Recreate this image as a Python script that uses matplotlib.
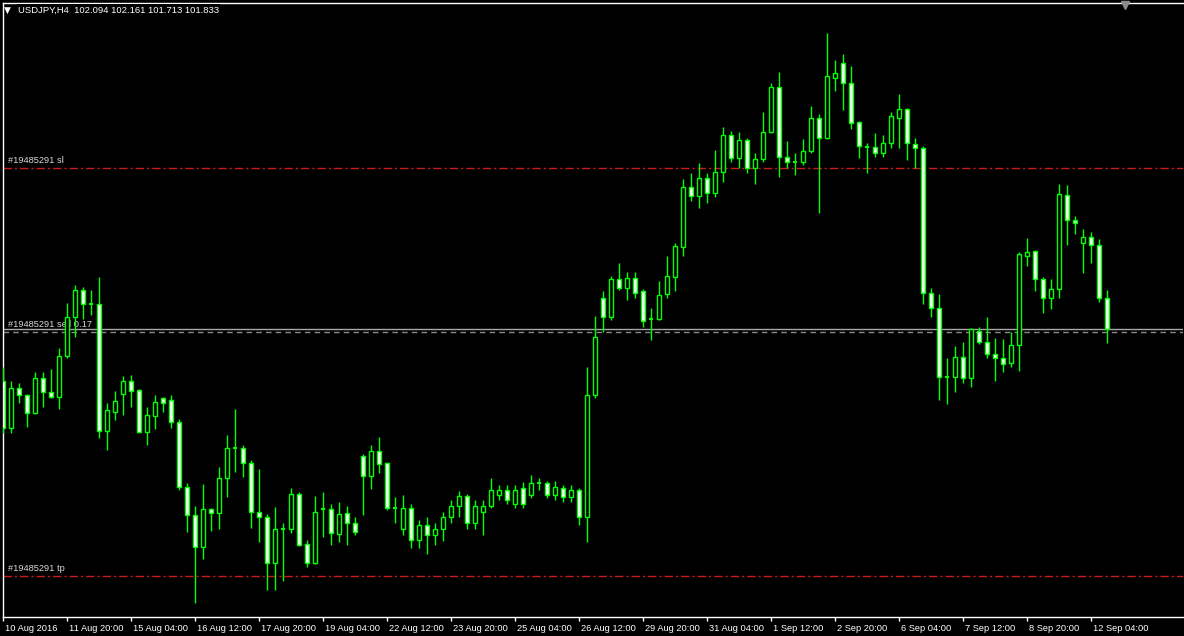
import matplotlib
matplotlib.use('Agg')
import matplotlib.pyplot as plt
import matplotlib.transforms as mtransforms
from matplotlib.patches import Rectangle
from matplotlib.lines import Line2D

# USDJPY H4 bars, 10 Aug 2016 12:00 .. 12 Sep 2016 12:00
opens = [101.40, 101.00, 101.34, 101.28, 101.13, 101.42, 101.30, 101.26, 101.61, 101.93,
         102.16, 102.04, 102.04, 100.98, 101.14, 101.29, 101.40, 101.32, 100.97, 101.10,
         101.25, 101.24, 101.05, 100.51, 100.27, 100.00, 100.32, 100.29, 100.58, 100.83,
         100.83, 100.71, 100.30, 100.25, 99.87, 100.15, 100.15, 100.45, 100.03, 99.87,
         100.32, 100.32, 100.11, 100.29, 100.20, 100.77, 100.60, 100.81, 100.71, 100.33,
         100.15, 100.33, 100.06, 100.19, 100.10, 100.15, 100.25, 100.35, 100.43, 100.20,
         100.30, 100.35, 100.44, 100.48, 100.36, 100.50, 100.44, 100.54, 100.54, 100.44,
         100.50, 100.42, 100.48, 100.25, 101.28, 102.09, 101.93, 102.25, 102.18, 102.26,
         102.15, 101.92, 101.92, 102.13, 102.27, 102.52, 103.03, 102.95, 103.10, 102.98,
         103.15, 103.46, 103.27, 103.42, 103.19, 103.26, 103.49, 103.87, 103.28, 103.24,
         103.24, 103.33, 103.61, 103.44, 103.94, 104.07, 103.90, 103.57, 103.36, 103.36,
         103.31, 103.40, 103.61, 103.68, 103.39, 103.35, 102.14, 102.01, 101.43, 101.43,
         101.60, 101.42, 101.82, 101.72, 101.62, 101.59, 101.55, 101.70, 102.45, 102.49,
         102.25, 102.09, 102.17, 102.96, 102.75, 102.56, 102.61, 102.54, 102.094]
highs = [101.51, 101.40, 101.38, 101.29, 101.47, 101.47, 101.50, 101.67, 102.05, 102.20,
         102.19, 102.16, 102.27, 101.21, 101.31, 101.44, 101.45, 101.33, 101.18, 101.28,
         101.26, 101.28, 101.08, 100.54, 100.35, 100.53, 100.33, 100.67, 100.94, 101.16,
         100.86, 100.73, 100.66, 100.28, 100.34, 100.20, 100.50, 100.46, 100.06, 100.43,
         100.46, 100.36, 100.38, 100.35, 100.25, 100.78, 100.86, 100.93, 100.72, 100.42,
         100.44, 100.36, 100.23, 100.25, 100.20, 100.30, 100.40, 100.47, 100.45, 100.40,
         100.40, 100.58, 100.52, 100.52, 100.52, 100.55, 100.61, 100.58, 100.56, 100.56,
         100.52, 100.52, 100.50, 101.51, 101.94, 102.15, 102.28, 102.39, 102.31, 102.31,
         102.17, 102.01, 102.24, 102.45, 102.56, 103.09, 103.14, 103.23, 103.14, 103.34,
         103.53, 103.50, 103.49, 103.44, 103.31, 103.66, 103.90, 103.99, 103.41, 103.31,
         103.43, 103.71, 103.64, 104.32, 104.09, 104.14, 104.04, 103.58, 103.40, 103.48,
         103.46, 103.66, 103.81, 103.69, 103.44, 103.37, 102.18, 102.13, 101.59, 101.69,
         101.72, 101.84, 101.85, 101.93, 101.76, 101.75, 101.81, 102.48, 102.60, 102.50,
         102.27, 102.25, 103.05, 103.04, 102.78, 102.67, 102.65, 102.59, 102.161]
lows = [100.96, 100.96, 101.21, 101.01, 101.12, 101.18, 101.25, 101.16, 101.59, 101.77,
        101.92, 101.95, 100.92, 100.82, 101.07, 101.11, 101.18, 100.96, 100.86, 100.99,
        101.14, 101.00, 100.48, 100.13, 99.53, 99.90, 100.14, 100.15, 100.42, 100.63,
        100.59, 100.16, 100.04, 99.64, 99.64, 99.72, 100.12, 100.01, 99.83, 99.86,
        100.09, 100.02, 100.04, 100.02, 100.10, 100.27, 100.49, 100.62, 100.31, 100.20,
        100.10, 99.99, 99.99, 99.94, 100.02, 100.05, 100.20, 100.25, 100.15, 100.15,
        100.10, 100.33, 100.40, 100.36, 100.33, 100.33, 100.41, 100.48, 100.41, 100.40,
        100.38, 100.38, 100.19, 100.04, 101.25, 101.81, 101.91, 102.16, 102.08, 102.09,
        101.85, 101.74, 101.91, 102.09, 102.15, 102.45, 102.91, 102.85, 102.89, 102.94,
        103.07, 103.24, 103.19, 103.14, 103.05, 103.24, 103.48, 103.11, 103.19, 103.13,
        103.21, 103.31, 102.81, 103.43, 103.83, 103.67, 103.51, 103.27, 103.14, 103.28,
        103.28, 103.35, 103.35, 103.25, 103.19, 102.04, 101.93, 101.24, 101.20, 101.30,
        101.38, 101.35, 101.71, 101.59, 101.40, 101.47, 101.51, 101.48, 102.36, 102.15,
        101.97, 102.00, 102.09, 102.54, 102.63, 102.30, 102.39, 102.06, 101.713]
closes = [101.00, 101.34, 101.28, 101.13, 101.42, 101.30, 101.26, 101.61, 101.93, 102.16,
          102.04, 102.04, 100.98, 101.15, 101.23, 101.40, 101.31, 100.97, 101.11, 101.22,
          101.21, 101.05, 100.51, 100.27, 100.00, 100.32, 100.29, 100.58, 100.83, 100.83,
          100.71, 100.30, 100.25, 99.87, 100.15, 100.15, 100.45, 100.02, 99.87, 100.30,
          100.32, 100.12, 100.28, 100.20, 100.13, 100.60, 100.81, 100.70, 100.33, 100.33,
          100.33, 100.06, 100.19, 100.10, 100.15, 100.25, 100.35, 100.43, 100.20, 100.35,
          100.35, 100.48, 100.48, 100.40, 100.48, 100.36, 100.54, 100.54, 100.44, 100.51,
          100.42, 100.48, 100.25, 101.28, 101.77, 101.93, 102.25, 102.18, 102.26, 102.14,
          101.90, 101.92, 102.12, 102.28, 102.53, 103.03, 102.95, 103.10, 102.98, 103.15,
          103.46, 103.27, 103.42, 103.19, 103.26, 103.49, 103.87, 103.28, 103.24, 103.24,
          103.33, 103.61, 103.44, 103.96, 103.98, 103.90, 103.56, 103.37, 103.36, 103.31,
          103.40, 103.62, 103.68, 103.40, 103.35, 102.14, 102.01, 101.43, 101.43, 101.60,
          101.42, 101.83, 101.72, 101.62, 101.59, 101.54, 101.70, 102.46, 102.48, 102.25,
          102.09, 102.17, 102.97, 102.75, 102.72, 102.61, 102.54, 102.09, 101.833]

tick_labels = ['10 Aug 2016', '11 Aug 20:00', '15 Aug 04:00', '16 Aug 12:00', '17 Aug 20:00',
               '19 Aug 04:00', '22 Aug 12:00', '23 Aug 20:00', '25 Aug 04:00', '26 Aug 12:00',
               '29 Aug 20:00', '31 Aug 04:00', '1 Sep 12:00', '2 Sep 20:00', '6 Sep 04:00',
               '7 Sep 12:00', '8 Sep 20:00', '12 Sep 04:00']

symbol = 'USDJPY,H4'
ticket = '#19485291'
sl_price = 103.19
tp_price = 99.76
order_price = 101.81
order_lots = 0.17

GREEN = '#00ff00'
plt.rcParams['font.family'] = ['Liberation Sans', 'DejaVu Sans']

fig = plt.figure(figsize=(11.84, 6.36), dpi=100, facecolor='black')
ax = fig.add_axes([3 / 1184, 19 / 636, 1180 / 1184, 614 / 636], facecolor='black')

# candles: bull = black body, bear = white body, green outline
w = 0.6
for i, (o, h, l, c) in enumerate(zip(opens, highs, lows, closes)):
    ax.vlines(i, l, h, color=GREEN, lw=1, zorder=3)
    if o == c:
        ax.hlines(o, i - w / 2, i + w / 2, color=GREEN, lw=1.5, zorder=4)
    else:
        face = 'white' if c < o else 'black'
        ax.add_patch(Rectangle((i - w / 2, min(o, c)), w, abs(c - o),
                               facecolor=face, edgecolor=GREEN, lw=1, zorder=4))

# order levels
red_dd = (0, (6, 2.2, 1.5, 2.2))
ax.axhline(sl_price, color='#c81c1c', lw=1, ls=red_dd, zorder=1)
ax.axhline(tp_price, color='#c81c1c', lw=1, ls=red_dd, zorder=1)
ax.axhline(order_price, color='#8a8a8a', lw=1, ls=(0, (4, 3)), zorder=1)
ax.axhline(closes[-1], color='#a8a8a8', lw=1, zorder=1)

lab = dict(color='#d8d8d8', fontsize=6.7, ha='left', va='bottom', zorder=1)
ax.text(0.65, sl_price + 0.02, f'{ticket} sl', **lab)
ax.text(0.65, order_price + 0.02, f'{ticket} sell {order_lots}', **lab)
ax.text(0.65, tp_price + 0.02, f'{ticket} tp', **lab)

ax.set_xlim(0, 147.5)
ax.set_ylim(99.414, 104.572)
ax.set_yticks([])
ax.set_xticks(range(0, len(opens), 8))
ax.set_xticklabels(tick_labels)
ax.tick_params(axis='x', colors='white', length=3, width=1, labelsize=6.7, pad=2)
shift = mtransforms.ScaledTranslation(2 / 100, 0, fig.dpi_scale_trans)
for t in ax.get_xticklabels():
    t.set_ha('left')
    t.set_transform(t.get_transform() + shift)

for s in ['left', 'top', 'bottom']:
    ax.spines[s].set_color('white')
    ax.spines[s].set_linewidth(1)
ax.spines['right'].set_visible(False)

header = f'{symbol}  {opens[-1]:.3f} {highs[-1]:.3f} {lows[-1]:.3f} {closes[-1]:.3f}'
fig.text(4 / 1184, 1 - 10 / 636, '\u25bc', color='white', fontsize=6.5, va='center', ha='left',
         family='DejaVu Sans')
fig.text(18 / 1184, 1 - 10 / 636, header, color='white', fontsize=6.8, va='center', ha='left',
         bbox=dict(facecolor='black', edgecolor='none', pad=1))
fig.add_artist(Line2D([1125 / 1184], [1 - 5 / 636], marker='v', color='#8c8c8c',
                      markersize=6, transform=fig.transFigure))

fig.savefig('out.png', dpi=100, facecolor='black')
